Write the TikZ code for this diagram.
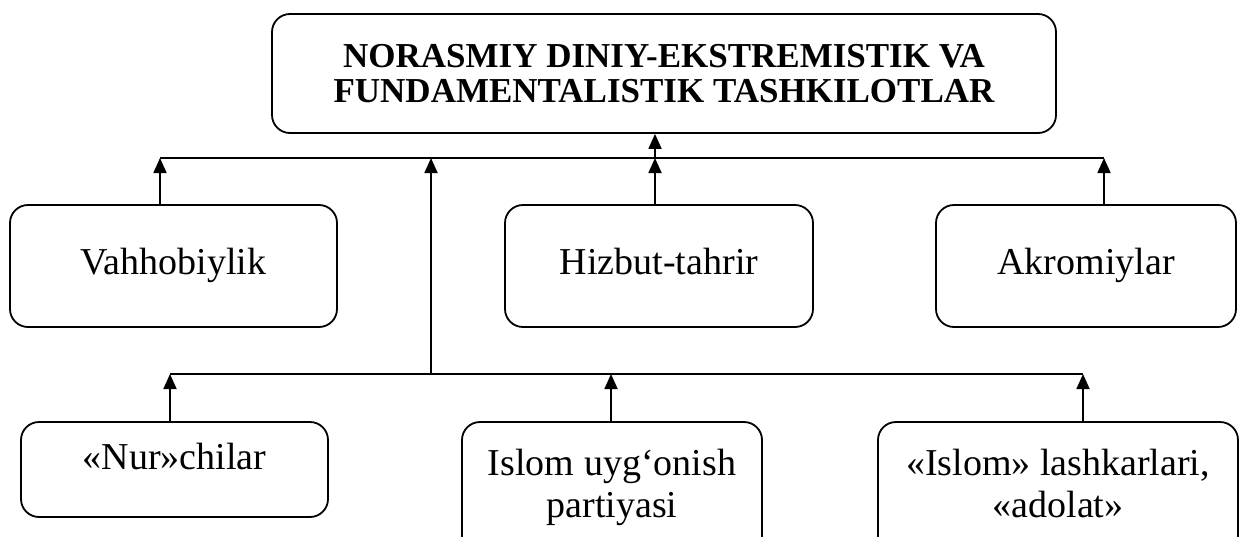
\documentclass[tikz,border=0pt]{standalone}
\usepackage{fontspec}
\setmainfont{Liberation Serif}
\usetikzlibrary{arrows.meta}
\begin{document}
\begin{tikzpicture}[x=1pt,y=-1pt,
  box/.style={draw, line width=1.8pt, rounded corners=18pt, inner sep=0pt,
    align=center, font=\fontsize{38}{42}\selectfont},
  onebox/.style={box, minimum height=122pt, text height=25pt, text depth=8pt},
  conn/.style={line width=1.8pt},
  arr/.style={line width=1.8pt, -{Triangle[length=15pt,width=13pt]}},
]
\useasboundingbox (0,0) rectangle (1239,536);
\clip (0,0) rectangle (1239,536);

% boxes
\node[box, minimum width=784pt, minimum height=119pt,
  font=\bfseries\fontsize{35}{35}\selectfont] (top) at (664,73.5)
  {NORASMIY DINIY-EKSTREMISTIK VA\\FUNDAMENTALISTIK TASHKILOTLAR};
\node[onebox, minimum width=327pt] (vah) at (173.5,266) {Vahhobiylik};
\node[onebox, minimum width=308pt] (hiz) at (659,266) {Hizbut-tahrir};
\node[onebox, minimum width=300pt] (akr) at (1086,266) {Akromiylar};
\node[box, minimum width=307pt, minimum height=95pt, text height=25pt, text depth=25pt]
  (nur) at (174.5,469.5) {«Nur»chilar};
\node[box, minimum width=300pt, minimum height=133pt] (isl) at (612,488.5)
  {Islom uyg‘onish\strut\\partiyasi\strut};
\node[box, minimum width=360pt, minimum height=133pt] (lash) at (1058,488.5)
  {«Islom» lashkarlari,\strut\\«adolat»\strut};

% reference coordinates for buses and stems
\coordinate (busA) at (0,158);
\coordinate (busB) at (0,374);
\coordinate (sv) at (160,0);
\coordinate (sh) at (655,0);
\coordinate (sa) at (1104,0);
\coordinate (sm) at (431,0);
\coordinate (sn) at (170,0);
\coordinate (si) at (611,0);
\coordinate (sl) at (1083,0);

% upper bus
\draw[conn] (sv |- busA) -- (sa |- busA);
\draw[arr] (sv |- vah.north) -- (sv |- busA);
\draw[arr] (sh |- hiz.north) -- (sh |- busA);
\draw[arr] (sa |- akr.north) -- (sa |- busA);
\draw[arr] (sh |- busA) -- (sh |- top.south);
\draw[arr] (sm |- busB) -- (sm |- busA);

% lower bus
\draw[conn] (sn |- busB) -- (sl |- busB);
\draw[arr] (sn |- nur.north) -- (sn |- busB);
\draw[arr] (si |- isl.north) -- (si |- busB);
\draw[arr] (sl |- lash.north) -- (sl |- busB);
\end{tikzpicture}
\end{document}
